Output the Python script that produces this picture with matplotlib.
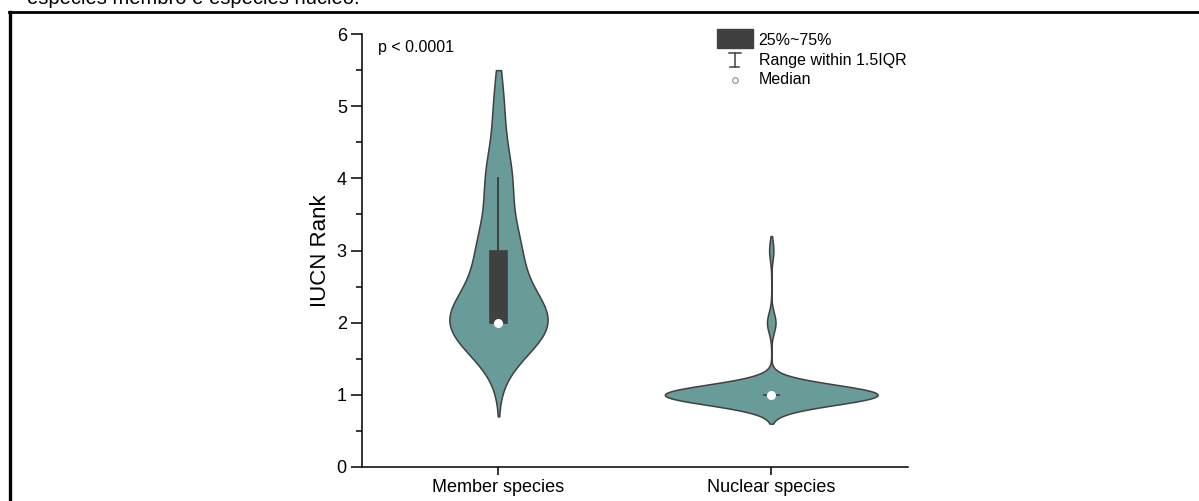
import numpy as np
import matplotlib
matplotlib.use('Agg')
import matplotlib.pyplot as plt
from matplotlib.patches import Rectangle
from matplotlib.lines import Line2D

plt.rcParams['font.family'] = ['Liberation Sans', 'DejaVu Sans']

# IUCN rank counts per group (rank -> number of species)
groups = ['Member species', 'Nuclear species']
ranks = [1, 2, 3, 4, 5]
member_counts = [0, 20, 8, 5, 2]
nuclear_counts = [100, 4, 2, 0, 0]
p_text = 'p < 0.0001'

fill_color = '#699b98'
dark = '#404040'


def kde(samples, grid, bw):
    d = (grid[:, None] - samples[None, :]) / bw
    return np.exp(-0.5 * d ** 2).sum(axis=1)


def violin(ax, pos, samples, bw, lo, hi, half_width, box_w=0.062):
    y = np.linspace(lo, hi, 400)
    dens = kde(samples, y, bw)
    dens = dens / dens.max() * half_width
    ax.fill_betweenx(y, pos - dens, pos + dens, facecolor=fill_color,
                     edgecolor=dark, linewidth=1.1, zorder=2)
    q1, med, q3 = np.percentile(samples, [25, 50, 75])
    iqr = q3 - q1
    top = samples[samples <= q3 + 1.5 * iqr].max()
    bot = samples[samples >= q1 - 1.5 * iqr].min()
    ax.plot([pos, pos], [q3, top], color=dark, lw=1.4, zorder=3)
    ax.plot([pos, pos], [bot, q1], color=dark, lw=1.4, zorder=3)
    ax.add_patch(Rectangle((pos - box_w / 2, q1), box_w, q3 - q1,
                           facecolor=dark, edgecolor=dark, lw=1.2, zorder=3))
    ax.plot(pos, med, 'o', ms=5.5, mfc='white', mec='white', zorder=4)


fig = plt.figure(figsize=(11.99, 5.01), dpi=100)
ax = fig.add_axes([0.302, 0.068, 0.455, 0.864])

member = np.repeat(ranks, member_counts).astype(float)
nuclear = np.repeat(ranks, nuclear_counts).astype(float)

violin(ax, 1, member, 0.45, 0.7, 5.5, 0.18)
violin(ax, 2, nuclear, 0.14, 0.6, 3.2, 0.39)

ax.set_xlim(0.5, 2.5)
ax.set_ylim(0, 6)
ax.set_xticks([1, 2])
ax.set_xticklabels(groups, fontsize=13)
ax.set_yticks(range(0, 7))
ax.set_yticks(np.arange(0.5, 6, 1), minor=True)
ax.tick_params(axis='y', labelsize=13, length=8, width=1.1, direction='out', pad=3)
ax.tick_params(axis='y', which='minor', length=4, width=1.1)
ax.tick_params(axis='x', length=6, width=1.1, pad=3)
ax.set_ylabel('IUCN Rank', fontsize=16, labelpad=4)
for s in ['top', 'right']:
    ax.spines[s].set_visible(False)
for s in ['left', 'bottom']:
    ax.spines[s].set_linewidth(1.1)

ax.text(0.029, 0.968, p_text, transform=ax.transAxes, fontsize=11.5,
        va='center', ha='left')

# legend drawn by hand, like the Origin one
tr = ax.transAxes
ax.add_patch(Rectangle((0.650, 0.968), 0.066, 0.044, transform=tr,
                       facecolor=dark, edgecolor=dark, clip_on=False, zorder=5))
ax.plot([0.683, 0.683], [0.925, 0.957], color=dark, lw=1.1, transform=tr, clip_on=False)
ax.plot([0.672, 0.694], [0.957, 0.957], color=dark, lw=1.1, transform=tr, clip_on=False)
ax.plot([0.675, 0.691], [0.925, 0.925], color=dark, lw=1.1, transform=tr, clip_on=False)
ax.plot(0.683, 0.894, 'o', ms=4, mfc='white', mec='#888888', mew=0.8,
        transform=tr, clip_on=False)
for yy, lab in zip([0.986, 0.940, 0.894], ['25%~75%', 'Range within 1.5IQR', 'Median']):
    ax.text(0.727, yy, lab, transform=tr, fontsize=11.5, va='center', ha='left')

# screenshot frame and the cut-off caption above it
fig.add_artist(Line2D([10.5 / 1199, 10.5 / 1199], [0, 1 - 12 / 501], color='black', lw=2.4))
fig.add_artist(Line2D([9 / 1199, 1], [1 - 12 / 501, 1 - 12 / 501], color='black', lw=2.0))
fig.text(27 / 1199, 1 - 4 / 501, 'espécies membro e espécies núcleo.', fontsize=14.5,
         va='baseline', ha='left')

fig.savefig('out.png', dpi=100)
